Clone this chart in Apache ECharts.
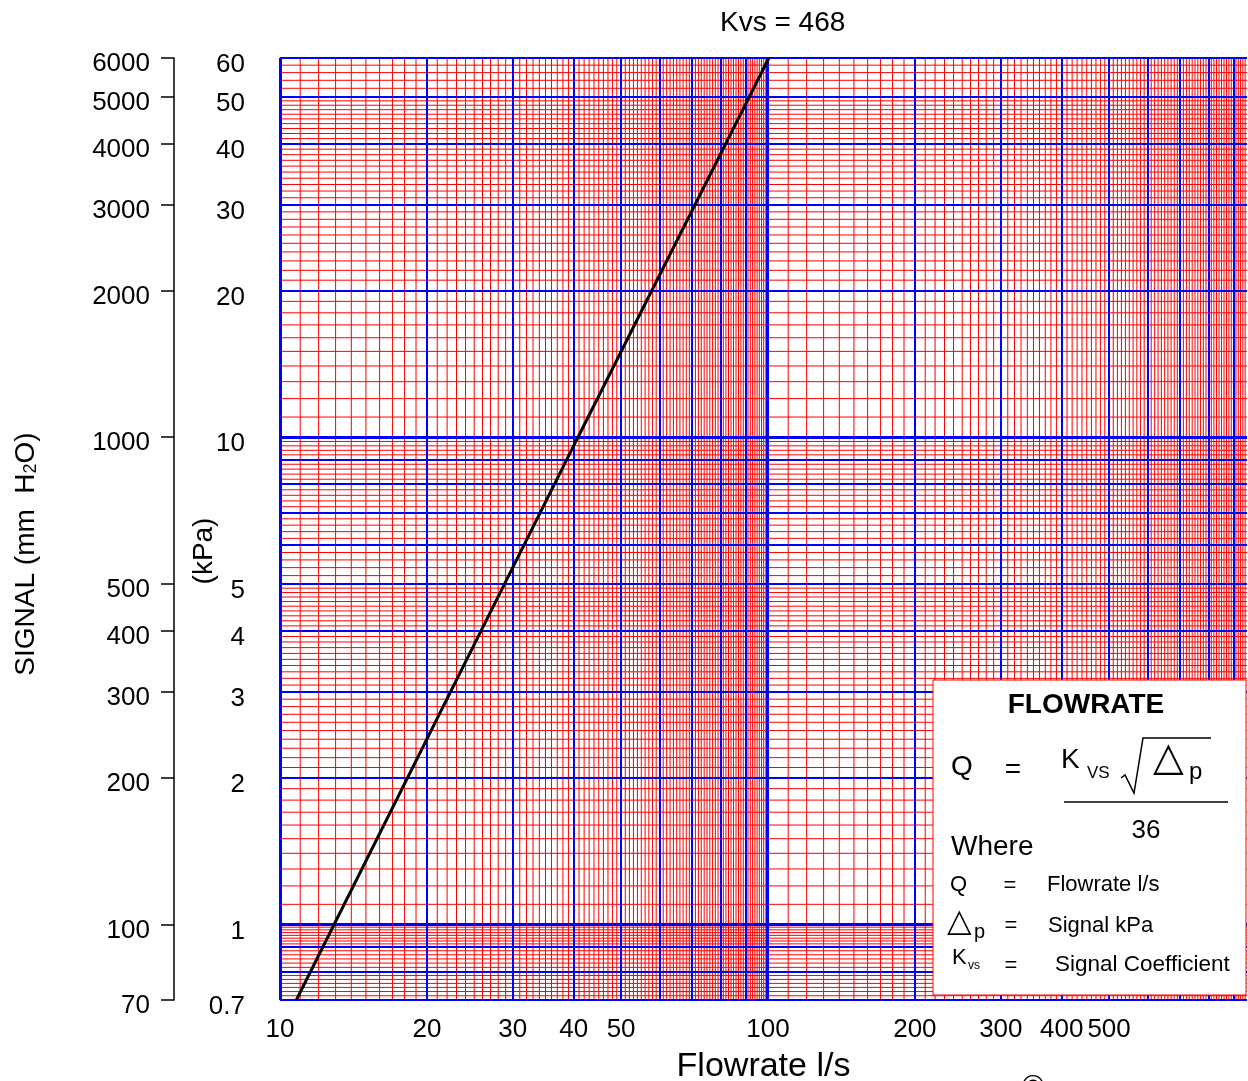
<!DOCTYPE html>
<html>
<head>
<meta charset="utf-8">
<title>Flowrate chart</title>
<script src="https://cdn.jsdelivr.net/npm/echarts@6/dist/echarts.min.js"></script>
<style>
  html, body { margin: 0; padding: 0; background: #fff; }
  #chart { width: 1248px; height: 1081px; }
</style>
</head>
<body>
<div id="chart"></div>
<script>
// Kvs = 468 curve (flowrate l/s vs signal kPa)
const flowRate = [10.8, 40.8, 100.4];
const signalKpa = [0.7, 10, 60];

// axis labels
const flowTicks = [10, 20, 30, 40, 50, 100, 200, 300, 400, 500];
const kpaTicks = [60, 50, 40, 30, 20, 10, 5, 4, 3, 2, 1, 0.7];
const mmTicks = [6000, 5000, 4000, 3000, 2000, 1000, 500, 400, 300, 200, 100, 70];

// axis ranges
const xMin = 10, xMax = 958.5;
const yMin = 0.7, yMax = 60;

// graph paper: [from, to, number of divisions]
const redX = [[10, 100, 90], [100, 1000, 90]];
const blueX = [[10, 100, 9], [100, 1000, 9]];
const decadeX = [10, 100];
const redY = [[0.7, 0.8, 7], [0.8, 0.9, 6], [0.9, 1, 8], [1, 2, 10], [2, 5, 30], [5, 10, 25], [10, 50, 40], [50, 60, 5]];
const blueY = [[0.7, 1, 3], [1, 10, 9], [10, 60, 5]];
const decadeY = [1, 10];

function divide(spec) {
  const out = [];
  spec.forEach(([a, b, n]) => {
    for (let i = 0; i <= n; i++) out.push(+(a + (b - a) * i / n).toPrecision(8));
  });
  return out;
}
// each grid line as [x1, y1, x2, y2] in data units
function paper(vx, vy) {
  const d = [];
  vx.filter(v => v >= xMin && v <= xMax).forEach(v => d.push([v, yMin, v, yMax]));
  vy.filter(v => v >= yMin && v <= yMax).forEach(v => d.push([xMin, v, xMax, v]));
  return d;
}
function paperSeries(name, data, color, width, z, crisp) {
  const snap = v => (!crisp ? v : width % 2 ? Math.round(v - 0.5) + 0.5 : Math.round(v));
  return {
    name, type: 'custom', data, z, silent: true,
    dimensions: ['x1', 'y1', 'x2', 'y2'],
    encode: { x: [0, 2], y: [1, 3] },
    renderItem: (params, api) => {
      const a = api.coord([api.value(0), api.value(1)]);
      const b = api.coord([api.value(2), api.value(3)]);
      const vertical = api.value(0) === api.value(2);
      const shape = vertical
        ? { x1: snap(a[0]), y1: a[1], x2: snap(a[0]), y2: b[1] }
        : { x1: a[0], y1: snap(a[1]), x2: b[0], y2: snap(a[1]) };
      return { type: 'line', shape, style: { stroke: color, lineWidth: width } };
    }
  };
}

const font = '"Liberation Sans", Arial, sans-serif';
const fmt = v => String(parseFloat((+v).toPrecision(4)));

const chart = echarts.init(document.getElementById('chart'));

const boxTexts = [
  [1086, 705, 'FLOWRATE', 'bold 28px ' + font, 'center'],
  [951, 767, 'Q', '28px ' + font, 'left'],
  [1013, 770, '=', '28px ' + font, 'center'],
  [1061, 760, 'K', '28px ' + font, 'left'],
  [1087, 773, 'VS', '17px ' + font, 'left'],
  [1153, 760, '△', '40px "DejaVu Sans"', 'left'],
  [1189, 772, 'p', '24px ' + font, 'left'],
  [1146, 831, '36', '26px ' + font, 'center'],
  [951, 847, 'Where', '28px ' + font, 'left'],
  [950, 885, 'Q', '22px ' + font, 'left'],
  [1010, 886, '=', '22px ' + font, 'center'],
  [1047, 885, 'Flowrate l/s', '22px ' + font, 'left'],
  [947, 923, '△', '32px "DejaVu Sans"', 'left'],
  [974, 932, 'p', '20px ' + font, 'left'],
  [1011, 926, '=', '22px ' + font, 'center'],
  [1048, 926, 'Signal kPa', '22px ' + font, 'left'],
  [952, 958, 'K', '22px ' + font, 'left'],
  [968, 966, 'vs', '12px ' + font, 'left'],
  [1011, 966, '=', '22px ' + font, 'center'],
  [1055, 965, 'Signal Coefficient', '22.5px ' + font, 'left']
];

const option = {
  animation: false,
  backgroundColor: '#fff',
  textStyle: { fontFamily: font, color: '#000' },
  title: {
    text: 'Kvs = 468',
    left: 715, top: 4,
    textStyle: { fontFamily: font, fontWeight: 'normal', fontSize: 28, color: '#000' }
  },
  grid: { left: 280, top: 58, width: 967, height: 942, outerBoundsMode: 'none' },
  xAxis: {
    type: 'log', min: xMin, max: xMax,
    name: 'Flowrate l/s', nameLocation: 'middle', nameGap: 50, nameMoveOverlap: false,
    nameTextStyle: { fontFamily: font, fontSize: 34, color: '#000' },
    axisLine: { show: false }, axisTick: { show: false }, splitLine: { show: false },
    axisLabel: { customValues: flowTicks, formatter: fmt, fontSize: 26, color: '#000', margin: 17, fontFamily: font }
  },
  yAxis: [
    {
      type: 'log', min: yMin, max: yMax, position: 'left',
      name: '(kPa)', nameLocation: 'middle', nameRotate: 90, nameGap: 62, nameMoveOverlap: false,
      nameTextStyle: { fontFamily: font, fontSize: 28, color: '#000', padding: [0, 44, 0, 0] },
      axisLine: { show: false }, axisTick: { show: false }, splitLine: { show: false },
      axisLabel: { customValues: kpaTicks, formatter: fmt, fontSize: 26, color: '#000', margin: 35, fontFamily: font, verticalAlign: 'top', lineHeight: 14 }
    },
    {
      type: 'log', min: 70, max: 6000, position: 'left', offset: 106,
      name: 'SIGNAL (mm  H{sub|2}O)', nameLocation: 'middle', nameRotate: 90, nameGap: 134, nameMoveOverlap: false,
      nameTextStyle: {
        fontFamily: font, fontSize: 28, color: '#000', padding: [0, 50, 0, 0],
        rich: { sub: { fontFamily: font, fontSize: 18, verticalAlign: 'bottom', padding: [8, 0, 0, 0] } }
      },
      axisLine: { show: true, lineStyle: { color: '#000', width: 1.5 } },
      axisTick: { show: true, customValues: mmTicks, length: 13, lineStyle: { color: '#000', width: 1.5 } },
      splitLine: { show: false },
      axisLabel: { customValues: mmTicks, formatter: fmt, fontSize: 26, color: '#000', margin: 24, fontFamily: font, verticalAlign: 'top', lineHeight: 12 }
    }
  ],
  series: [
    paperSeries('red grid', paper(divide(redX), divide(redY)), '#ff0000', 1, 1, false),
    paperSeries('blue grid', paper(divide(blueX), divide(blueY)), '#0000ff', 2, 2, true),
    paperSeries('decades', paper(decadeX, decadeY), '#0000ff', 3, 3, true),
    {
      name: 'Kvs = 468', type: 'line', z: 5,
      data: flowRate.map((q, i) => [q, signalKpa[i]]),
      showSymbol: false, clip: false,
      lineStyle: { color: '#000', width: 3 }
    }
  ],
  graphic: [
    { type: 'rect', z: 100, shape: { x: 933, y: 680, width: 313, height: 315 }, style: { fill: '#fff', stroke: '#ff0000', lineWidth: 1 } },
    { type: 'polyline', z: 101, shape: { points: [[1121, 778], [1125, 775], [1134, 793], [1143, 738], [1211, 738]] }, style: { stroke: '#000', lineWidth: 1.5, fill: null } },
    { type: 'line', z: 101, shape: { x1: 1064, y1: 802, x2: 1228, y2: 802 }, style: { stroke: '#000', lineWidth: 1.5 } },
    { type: 'text', x: 1033, y: 1088, z: 101, style: { text: '©', font: '30px ' + font, fill: '#000', align: 'center', verticalAlign: 'middle' } }
  ].concat(boxTexts.map(([x, y, text, f, align]) => ({
    type: 'text', x, y, z: 101, style: { text, font: f, fill: '#000', align, verticalAlign: 'middle' }
  })))
};

chart.setOption(option);
</script>
</body>
</html>
